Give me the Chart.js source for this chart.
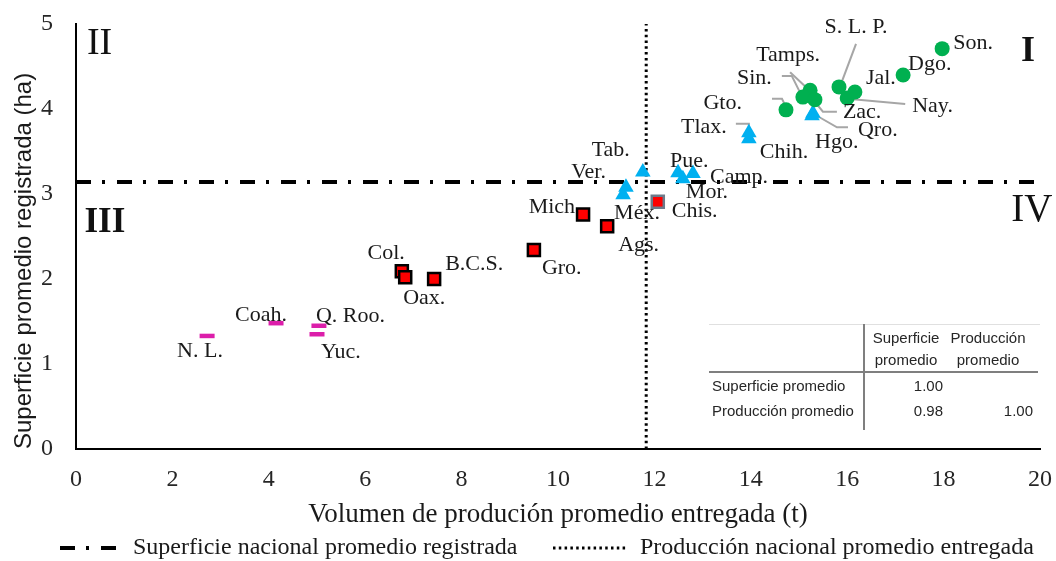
<!DOCTYPE html>
<html>
<head>
<meta charset="utf-8">
<script src="https://cdn.jsdelivr.net/npm/chart.js@4.4.1/dist/chart.umd.min.js"></script>
<style>
    html, body { margin: 0; padding: 0; background: #fff; }
    #wrap { position: relative; width: 1056px; height: 561px; }
</style>
</head>
<body>
<div id="wrap"><canvas id="quadrantChart"></canvas></div>
<script>
// Superficie vs producción promedio por estado (cuadrantes)

const circleStates = ['Son.', 'Dgo.', 'Jal.', 'S. L. P.', 'Nay.', 'Tamps.', 'Sin.', 'Zac.', 'Gto.'];
const circleProd = [17.97, 17.16, 16.16, 15.83, 16.00, 15.23, 15.08, 15.33, 14.73];
const circleSurf = [4.71, 4.40, 4.20, 4.26, 4.13, 4.22, 4.14, 4.11, 3.99];

const triangleStates = ['Hgo.', 'Qro.', 'Tlax.', 'Chih.', 'Tab.', 'Ver.', 'Méx.', 'Pue.', 'Camp.', 'Mor.'];
const triangleProd = [15.27, 15.29, 13.96, 13.96, 11.76, 11.41, 11.35, 12.49, 12.80, 12.59];
const triangleSurf = [3.92, 3.95, 3.72, 3.65, 3.26, 3.08, 2.99, 3.25, 3.24, 3.18];

const squareStates = ['Chis.', 'Mich', 'Ags.', 'Gro.', 'Col.', 'Oax.', 'B.C.S.'];
const squareProd = [12.07, 10.52, 11.02, 9.50, 6.76, 6.83, 7.43];
const squareSurf = [2.91, 2.76, 2.62, 2.34, 2.09, 2.02, 2.00];

const dashStates = ['Coah.', 'Q. Roo.', 'Yuc.', 'N. L.'];
const dashProd = [4.15, 5.04, 5.00, 2.72];
const dashSurf = [1.48, 1.45, 1.35, 1.33];

const nationalSurf = 3.14;   // ha
const nationalProd = 11.83;  // t

const xTicks = [0, 2, 4, 6, 8, 10, 12, 14, 16, 18, 20];
const yTicks = [0, 1, 2, 3, 4, 5];

const corrHeaders = ['Superficie\npromedio', 'Producción\npromedio'];
const corrRows = ['Superficie promedio', 'Producción promedio'];
const corrValues = [[1.00, null], [0.98, 1.00]];

const quadrantNames = ['I', 'II', 'III', 'IV'];

// label placement (pixels from the point) and leader lines
const labelSpots = {
    'Son.': [11, -5, 'left'], 'Dgo.': [5, -11, 'left'], 'Jal.': [11, -14, 'left'],
    'S. L. P.': [17, -60, 'center'], 'Nay.': [65, 8, 'left'], 'Tamps.': [-22, -35, 'center'],
    'Sin.': [-31, -19, 'right'], 'Zac.': [28, 13, 'left'], 'Gto.': [-44, -7, 'right'],
    'Hgo.': [3, 26, 'left'], 'Qro.': [45, 17, 'left'], 'Tlax.': [-22, -6, 'right'],
    'Chih.': [11, 13, 'left'], 'Tab.': [-13, -22, 'right'], 'Ver.': [-20, -15, 'right'],
    'Méx.': [-9, 18, 'left'], 'Pue.': [-8, -12, 'left'], 'Camp.': [17, 4, 'left'],
    'Mor.': [3, 14, 'left'], 'Chis.': [14, 10, 'left'], 'Mich': [-8, -7, 'right'],
    'Ags.': [11, 19, 'left'], 'Gro.': [8, 18, 'left'], 'Col.': [3, -18, 'right'],
    'Oax.': [-2, 21, 'left'], 'B.C.S.': [11, -15, 'left'], 'Coah.': [-41, -8, 'left'],
    'Q. Roo.': [-3, -10, 'left'], 'Yuc.': [4, 18, 'left'], 'N. L.': [-30, 15, 'left']
};
const leaderPaths = {
    'S. L. P.': [[17, -43], [2, -3]],
    'Nay.': [[58, 6], [3, 1]],
    'Tamps.': [[-20, -18], [-4, -3]],
    'Sin.': [[-21, -21], [-11, -21], [-2, -3]],
    'Zac.': [[22, 12], [8, 12], [-1, 1]],
    'Gto.': [[-14, -11], [-4, -11], [0, -3]],
    'Qro.': [[35, 14], [24, 14], [3, 2]],
    'Tlax.': [[-13, -9], [0, -9], [0, -3]]
};

const serif = "'Liberation Serif', 'Times New Roman', serif";
const sans = "'Liberation Sans', Arial, sans-serif";

function toPoints(xs, ys) {
    return xs.map((x, i) => ({ x: x, y: ys[i] }));
}

const pointLabels = {
    id: 'pointLabels',
    beforeDatasetsDraw(chart) {
        const ctx = chart.ctx;
        ctx.save();
        ctx.strokeStyle = '#a6a6a6';
        ctx.lineWidth = 2;
        chart.data.datasets.forEach((ds, i) => {
            if (!ds.names) return;
            chart.getDatasetMeta(i).data.forEach((pt, j) => {
                const path = leaderPaths[ds.names[j]];
                if (!path) return;
                ctx.beginPath();
                path.forEach(([dx, dy], k) => {
                    if (k === 0) ctx.moveTo(pt.x + dx, pt.y + dy);
                    else ctx.lineTo(pt.x + dx, pt.y + dy);
                });
                ctx.stroke();
            });
        });
        ctx.restore();
    },
    afterDatasetsDraw(chart) {
        const ctx = chart.ctx;
        ctx.save();
        ctx.font = '22px ' + serif;
        ctx.fillStyle = '#1a1a1a';
        ctx.textBaseline = 'middle';
        chart.data.datasets.forEach((ds, i) => {
            if (!ds.names) return;
            chart.getDatasetMeta(i).data.forEach((pt, j) => {
                const spot = labelSpots[ds.names[j]] || [8, -10, 'left'];
                ctx.textAlign = spot[2];
                ctx.fillText(ds.names[j], pt.x + spot[0], pt.y + spot[1]);
            });
        });

        // quadrant numerals
        const xs = chart.scales.x, ys = chart.scales.y;
        const spots = [[19.75, 4.67, 'bold 36px'], [0.49, 4.76, '38px'], [0.60, 2.66, 'bold 35px'], [19.83, 2.80, '39px']];
        ctx.textAlign = 'center';
        ctx.fillStyle = '#111';
        quadrantNames.forEach((q, k) => {
            ctx.font = spots[k][2] + ' ' + serif;
            ctx.fillText(q, xs.getPixelForValue(spots[k][0]), ys.getPixelForValue(spots[k][1]));
        });
        ctx.restore();
    }
};

const corrTable = {
    id: 'corrTable',
    afterDraw(chart) {
        const ctx = chart.ctx;
        const left = 709, right = 1040, top = 324, bottom = 430, split = 864, headBottom = 372;
        const col1 = 943, col2 = 1033;
        ctx.save();
        ctx.fillStyle = '#fff';
        ctx.fillRect(left, top, right - left, bottom - top);
        ctx.strokeStyle = '#e0e0e0';
        ctx.lineWidth = 1;
        ctx.beginPath();
        ctx.moveTo(left, top + 0.5); ctx.lineTo(right, top + 0.5);
        ctx.stroke();
        ctx.strokeStyle = '#7f7f7f';
        ctx.lineWidth = 2;
        ctx.beginPath();
        ctx.moveTo(split, top); ctx.lineTo(split, bottom);
        ctx.moveTo(left, headBottom); ctx.lineTo(right - 2, headBottom);
        ctx.stroke();

        ctx.fillStyle = '#262626';
        ctx.font = '15px ' + sans;
        ctx.textBaseline = 'middle';
        ctx.textAlign = 'center';
        const headX = [906, 988];
        corrHeaders.forEach((h, k) => {
            h.split('\n').forEach((line, n) => ctx.fillText(line, headX[k], 339 + n * 22));
        });
        const rowY = [387, 412];
        corrRows.forEach((r, k) => {
            ctx.textAlign = 'left';
            ctx.fillText(r, left + 3, rowY[k]);
            ctx.textAlign = 'right';
            corrValues[k].forEach((v, c) => {
                if (v !== null) ctx.fillText(v.toFixed(2), c === 0 ? col1 : col2, rowY[k]);
            });
        });
        ctx.restore();
    }
};

const bottomLegend = {
    id: 'bottomLegend',
    afterDraw(chart) {
        const ctx = chart.ctx;
        const y = 548;
        const items = chart.data.datasets.filter(ds => ds.inLegend);
        const spots = [[60, 118, 133], [553, 628, 640]];
        ctx.save();
        items.forEach((ds, k) => {
            const [x0, x1, tx] = spots[k];
            ctx.strokeStyle = ds.borderColor;
            ctx.lineWidth = ds.borderWidth;
            ctx.setLineDash(ds.borderDash);
            ctx.beginPath();
            ctx.moveTo(x0, y); ctx.lineTo(x1, y);
            ctx.stroke();
            ctx.setLineDash([]);
            ctx.fillStyle = '#1a1a1a';
            ctx.font = '24px ' + serif;
            ctx.textAlign = 'left';
            ctx.textBaseline = 'middle';
            ctx.fillText(ds.label, tx, y);
        });
        ctx.restore();
    }
};

document.addEventListener('DOMContentLoaded', () => {
    const ctx = document.getElementById('quadrantChart');
    new Chart(ctx, {
        type: 'scatter',
        data: {
            datasets: [
                {
                    label: 'Grupo círculos',
                    names: circleStates,
                    data: toPoints(circleProd, circleSurf),
                    pointStyle: 'circle',
                    pointRadius: 7.5,
                    backgroundColor: '#00b050',
                    borderColor: '#00b050',
                    borderWidth: 0,
                    order: 1
                },
                {
                    label: 'Grupo triángulos',
                    names: triangleStates,
                    data: toPoints(triangleProd, triangleSurf),
                    pointStyle: 'triangle',
                    pointRadius: 9,
                    backgroundColor: '#00b0f0',
                    borderColor: '#00b0f0',
                    borderWidth: 0,
                    order: 1
                },
                {
                    label: 'Grupo cuadrados',
                    names: squareStates,
                    data: toPoints(squareProd, squareSurf),
                    pointStyle: 'rect',
                    pointRadius: 8.5,
                    backgroundColor: '#ff0000',
                    pointBorderColor: c => squareStates[c.dataIndex] === 'Chis.' ? '#6d7a8a' : '#000',
                    borderWidth: 2.5,
                    order: 1
                },
                {
                    label: 'Grupo guiones',
                    names: dashStates,
                    data: toPoints(dashProd, dashSurf),
                    pointStyle: 'line',
                    pointRadius: 7.5,
                    borderColor: '#dc1eaa',
                    borderWidth: 4.5,
                    order: 1
                },
                {
                    label: 'Superficie nacional promedio registrada',
                    inLegend: true,
                    data: [{ x: 0, y: nationalSurf }, { x: 20, y: nationalSurf }],
                    showLine: true,
                    borderColor: '#000',
                    borderWidth: 4,
                    borderDash: [15, 11, 3, 12],
                    pointRadius: 0,
                    order: 5
                },
                {
                    label: 'Producción nacional promedio entregada',
                    inLegend: true,
                    data: [{ x: nationalProd, y: 0 }, { x: nationalProd, y: 5 }],
                    showLine: true,
                    borderColor: '#000',
                    borderWidth: 3,
                    borderDash: [2.5, 3.3],
                    pointRadius: 0,
                    order: 5
                }
            ]
        },
        options: {
            responsive: true,
            maintainAspectRatio: false,
            animation: false,
            layout: {
                padding: { top: 24, right: 16, bottom: 30, left: 0 }
            },
            plugins: {
                legend: { display: false },
                tooltip: { enabled: false }
            },
            scales: {
                x: {
                    type: 'linear',
                    min: 0,
                    max: 20,
                    afterBuildTicks: s => { s.ticks = xTicks.map(v => ({ value: v })); },
                    afterFit: s => {
                        s.height = 82;
                        s.paddingLeft = 0;
                        s.paddingRight = 0;
                    },
                    grid: { display: false, drawTicks: false },
                    border: { color: '#000', width: 2 },
                    ticks: {
                        padding: 16,
                        color: '#262626',
                        font: { family: serif, size: 24 }
                    },
                    title: {
                        display: true,
                        text: 'Volumen de produción promedio entregada (t)',
                        color: '#1a1a1a',
                        padding: 0,
                        font: { family: serif, size: 27 }
                    }
                },
                y: {
                    type: 'linear',
                    min: 0,
                    max: 5,
                    afterBuildTicks: s => { s.ticks = yTicks.map(v => ({ value: v })); },
                    afterFit: s => {
                        s.width = 76;
                        s.paddingTop = 0;
                        s.paddingBottom = 0;
                    },
                    grid: { display: false, drawTicks: false },
                    border: { color: '#000', width: 2 },
                    ticks: {
                        padding: 23,
                        color: '#262626',
                        font: { family: serif, size: 24 }
                    },
                    title: {
                        display: true,
                        text: 'Superficie promedio registrada (ha)',
                        align: 'start',
                        color: '#1a1a1a',
                        padding: { top: 10 },
                        font: { family: sans, size: 24 }
                    }
                }
            }
        },
        plugins: [pointLabels, corrTable, bottomLegend]
    });
});
</script>
</body>
</html>
